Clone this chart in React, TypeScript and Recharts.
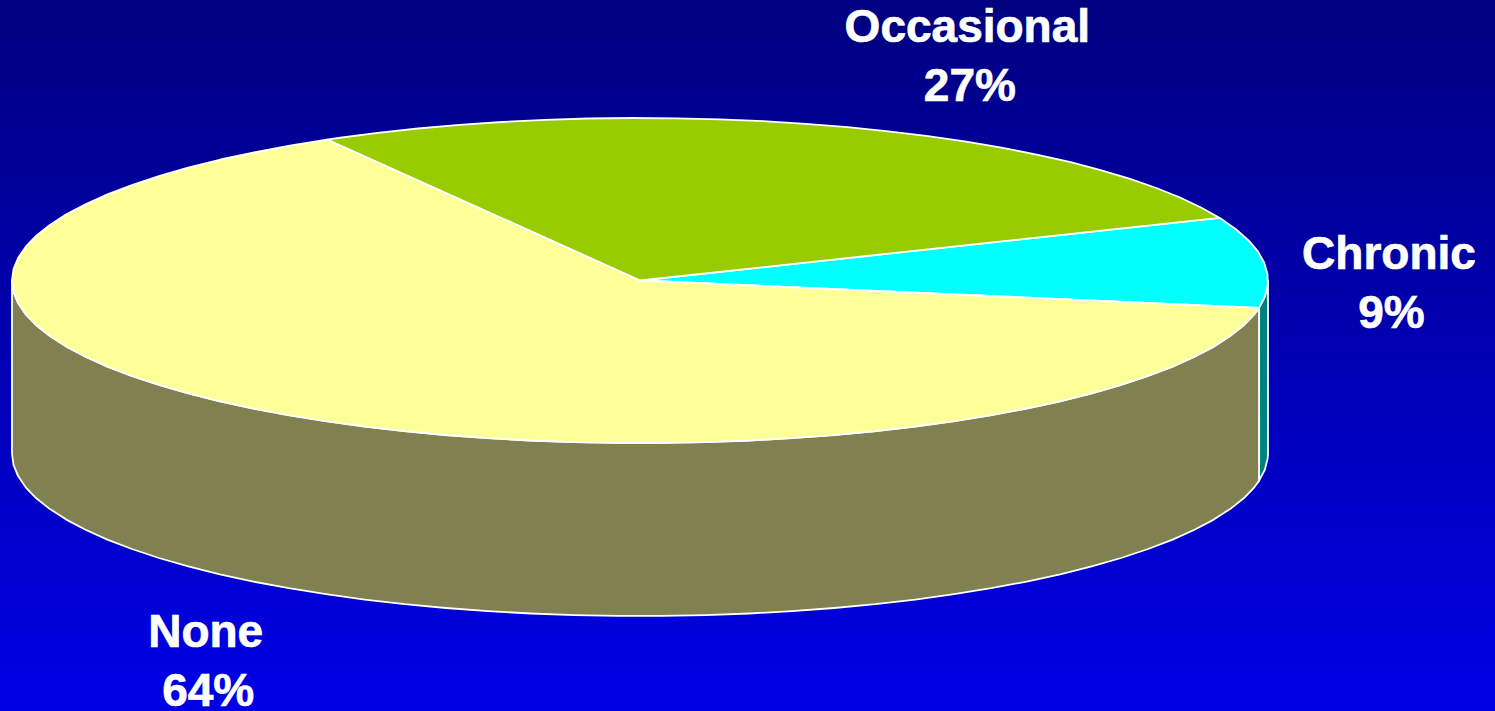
import React from "react";
import { PieChart, Pie, Cell } from "recharts";

const categories = ["Chronic", "Occasional", "None"];
const shares = [9, 27, 64];
const topColors = ["#00FFFF", "#99CC00", "#FFFF99"];
const wallColors = ["#008080", "#4D6600", "#808050"];

const pieData = categories.map((name, i) => ({ name, value: shares[i] }));

const WIDTH = 1495;
const HEIGHT = 711;
const CENTER_X = 640;
const CENTER_Y = 280.5;
const RADIUS = 628;
const SQUASH = 162.5 / 628; // flattens the disc into a tilted ellipse
const DEPTH = 173;
const STEP = 4; // degrees per rim segment

// where each label sits relative to the rim at the slice's mid angle
const labelOffsets: Record<string, [number, number]> = {
  Chronic: [125, 7],
  Occasional: [126, -85],
  None: [-75, 233],
};

const rimPoint = (cx: number, cy: number, r: number, deg: number): [number, number] => {
  const a = (deg * Math.PI) / 180;
  return [cx + r * Math.cos(a), cy - r * SQUASH * Math.sin(a)];
};

const arcPoints = (cx: number, cy: number, r: number, from: number, to: number) => {
  const pts: [number, number][] = [];
  for (let d = from; d < to; d += STEP) pts.push(rimPoint(cx, cy, r, d));
  pts.push(rimPoint(cx, cy, r, to));
  return pts;
};

const toPath = (pts: [number, number][]) =>
  pts.map(([x, y], i) => `${i ? "L" : "M"}${x.toFixed(1)},${y.toFixed(1)}`).join(" ") + " Z";

// Slice drawn as a flattened sector, plus its side wall on the near half of the rim
function Slice3D(props: any) {
  const { cx, cy, outerRadius, startAngle, endAngle, index } = props;
  const top = [[cx, cy] as [number, number], ...arcPoints(cx, cy, outerRadius, startAngle, endAngle)];

  // the wall is only visible between 180 and 360 degrees
  const walls: [number, number][][] = [];
  for (const [lo, hi] of [[-180, 0], [180, 360]]) {
    const from = Math.max(startAngle, lo);
    const to = Math.min(endAngle, hi);
    if (to > from) {
      const rim = arcPoints(cx, cy, outerRadius, from, to);
      const lower = rim.map(([x, y]) => [x, y + DEPTH] as [number, number]).reverse();
      walls.push([...rim, ...lower]);
    }
  }

  return (
    <g>
      {walls.map((w, i) => (
        <path key={i} d={toPath(w)} fill={wallColors[index]} stroke="#FFFFFF" strokeWidth={1.8} strokeLinejoin="round" />
      ))}
      <path d={toPath(top)} fill={topColors[index]} stroke="#FFFFFF" strokeWidth={1.8} strokeLinejoin="round" />
    </g>
  );
}

function SliceLabel(props: any) {
  const { cx, cy, midAngle, name, value } = props;
  const [rimX, rimY] = rimPoint(cx, cy, RADIUS, midAngle);
  const [dx, dy] = labelOffsets[name];
  const textStyle = {
    fontFamily: "'Liberation Sans', Arial, sans-serif",
    fontWeight: 700,
    fontSize: 46,
    fill: "#FFFFFF",
    stroke: "#FFFFFF",
    strokeWidth: 0.7,
  };
  return (
    <g>
      <text x={rimX + dx} y={rimY + dy} textAnchor="middle" style={textStyle}>{name}</text>
      <text x={rimX + dx + 2.5} y={rimY + dy + 59} textAnchor="middle" style={textStyle}>{`${value}%`}</text>
    </g>
  );
}

export default function App() {
  return (
    <div
      style={{
        position: "absolute",
        left: 0,
        top: 0,
        width: WIDTH,
        height: HEIGHT,
        overflow: "hidden",
        background: "linear-gradient(180deg, #000080 0%, #0000E6 100%)",
      }}
    >
      <PieChart width={WIDTH} height={HEIGHT} margin={{ top: 0, right: 0, bottom: 0, left: 0 }}>
        <Pie
          data={pieData}
          dataKey="value"
          nameKey="name"
          cx={CENTER_X}
          cy={CENTER_Y}
          innerRadius={0}
          outerRadius={RADIUS}
          startAngle={-9.7}
          endAngle={350.3}
          paddingAngle={0}
          shape={Slice3D}
          label={SliceLabel}
          labelLine={false}
          isAnimationActive={false}
        >
          {pieData.map((entry, index) => (
            <Cell key={`cell-${index}`} fill={topColors[index]} />
          ))}
        </Pie>
      </PieChart>
    </div>
  );
}
